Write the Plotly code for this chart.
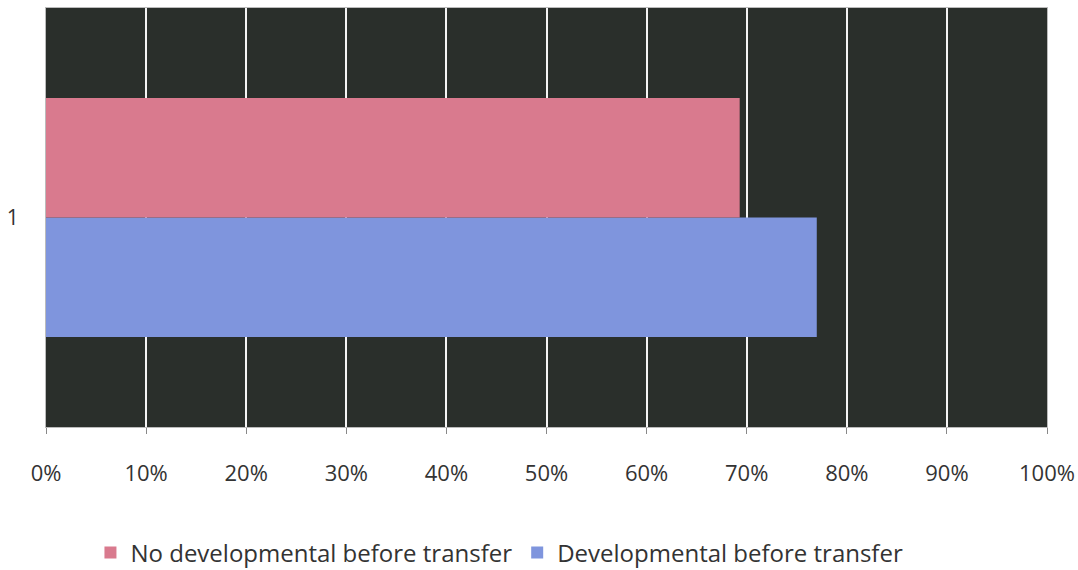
import plotly.graph_objects as go

categories = ["1"]
series_names = ["No developmental before transfer", "Developmental before transfer"]
no_dev = [0.693]
dev = [0.770]
tick_vals = [0, 0.1, 0.2, 0.3, 0.4, 0.5, 0.6, 0.7, 0.8, 0.9, 1.0]
tick_text = ["0%", "10%", "20%", "30%", "40%", "50%", "60%", "70%", "80%", "90%", "100%"]

pink = "#d97a8e"
blue = "#7f95dd"

fig = go.Figure()
fig.add_trace(go.Bar(y=categories, x=dev, name=series_names[1], orientation="h",
                     marker=dict(color=blue, line=dict(width=0)), legendrank=2))
fig.add_trace(go.Bar(y=categories, x=no_dev, name=series_names[0], orientation="h",
                     marker=dict(color=pink, line=dict(width=0)), legendrank=1))

fig.update_layout(
    width=1078, height=570,
    margin=dict(l=46, r=31, t=8, b=143, autoexpand=False),
    paper_bgcolor="white",
    plot_bgcolor="#2a2f2b",
    barmode="group",
    bargap=0.43,
    bargroupgap=0,
    font=dict(family="Open Sans, Liberation Sans, sans-serif", size=22, color="#333333"),
    showlegend=True,
    legend=dict(orientation="h", x=0.453, xanchor="center", yref="container",
                y=0.03, yanchor="middle", font=dict(size=24), itemwidth=30,
                traceorder="normal"),
    xaxis=dict(range=[0, 1], tickvals=tick_vals, ticktext=tick_text,
               showgrid=True, gridcolor="#f4f4f4", gridwidth=2,
               ticks="outside", ticklen=6, tickcolor="#888888",
               showline=True, linecolor="#bbbbbb", linewidth=1, mirror=True,
               zeroline=False, fixedrange=True, ticklabelstandoff=21),
    yaxis=dict(showgrid=False, ticks="", showline=True, linecolor="#bbbbbb", linewidth=1,
               mirror=True, ticklabelstandoff=22, fixedrange=True,
               tickfont=dict(size=21)),
)

fig.write_html("out.html")
